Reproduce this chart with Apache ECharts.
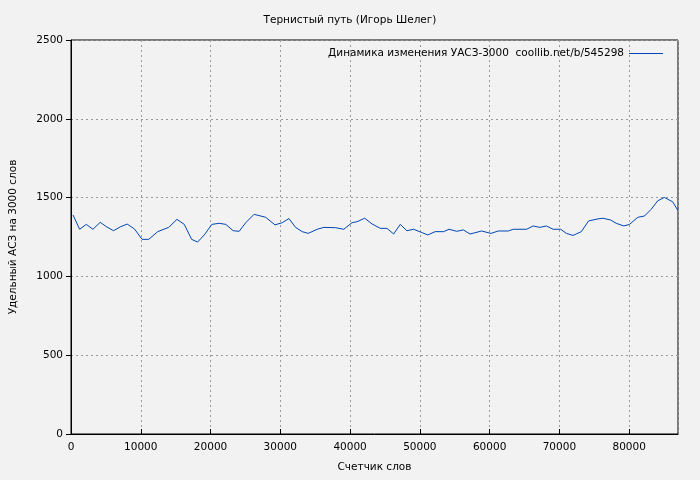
<!DOCTYPE html>
<html><head><meta charset="utf-8">
<script src="https://cdn.jsdelivr.net/npm/echarts@6/dist/echarts.min.js"></script>
<style>html,body{margin:0;background:#f2f2f2}#main{width:700px;height:480px}</style>
</head><body><div id="main"></div>
<script>
var wordCounts = [286, 1240, 2190, 3140, 4190, 5050, 6100, 7050, 8050, 9100, 10190, 11140, 12430, 14000, 15190, 16240, 17290, 18140, 19100, 20190, 21240, 22190, 23240, 24100, 25050, 26240, 27900, 29240, 30290, 31240, 32190, 33140, 34000, 35290, 36240, 37900, 39100, 40290, 41000, 42100, 43140, 44330, 45290, 46240, 47190, 48140, 49100, 50190, 51140, 52190, 53390, 54190, 55290, 56240, 57190, 58860, 60190, 61240, 62670, 63390, 65290, 66240, 67190, 68140, 69100, 70190, 71000, 71960, 73140, 74190, 75530, 76240, 77330, 78140, 79240, 80040, 81240, 82190, 83140, 84100, 85050, 86240, 86960];
var uasValues = [1390, 1299, 1330, 1299, 1343, 1316, 1290, 1314, 1332, 1301, 1235, 1235, 1284, 1311, 1362, 1330, 1235, 1218, 1263, 1330, 1337, 1330, 1290, 1286, 1341, 1394, 1375, 1327, 1341, 1367, 1311, 1284, 1273, 1299, 1311, 1309, 1299, 1341, 1347, 1369, 1333, 1305, 1305, 1269, 1330, 1290, 1299, 1280, 1263, 1284, 1284, 1299, 1286, 1295, 1269, 1288, 1273, 1288, 1288, 1299, 1299, 1320, 1311, 1320, 1299, 1299, 1273, 1260, 1284, 1352, 1365, 1369, 1358, 1337, 1320, 1330, 1375, 1383, 1425, 1480, 1501, 1473, 1420];
var seriesName = 'Динамика изменения УАСЗ-3000  coollib.net/b/545298';

var points = wordCounts.map(function (x, i) { return [x, uasValues[i]]; });
var myChart = echarts.init(document.getElementById('main'));
var font = 'DejaVu Sans';
var plain = function (v) { return String(v); };
var option = {
    backgroundColor: '#f2f2f2',
    textStyle: { fontFamily: font },
    title: {
        text: 'Тернистый путь (Игорь Шелег)',
        left: 'center', top: 10,
        textStyle: { fontSize: 10.5, fontWeight: 'normal', color: '#000', fontFamily: font }
    },
    legend: {
        right: 32, top: 43, align: 'right', itemWidth: 34, itemHeight: 1, itemGap: 12,
        icon: 'rect',
        textStyle: { fontSize: 10.5, color: '#000', fontFamily: font },
        data: [seriesName]
    },
    grid: { left: 68, right: 22, top: 40, bottom: 46, show: true, borderColor: '#000', borderWidth: 1 },
    xAxis: {
        type: 'value', min: 0, max: 87000, interval: 10000,
        name: 'Счетчик слов', nameLocation: 'middle', nameGap: 28,
        nameTextStyle: { fontSize: 10.5, color: '#000' },
        axisLine: { lineStyle: { color: '#000' } },
        axisTick: { inside: true, lineStyle: { color: '#000' } },
        axisLabel: { fontSize: 10.5, color: '#000', showMaxLabel: false, formatter: plain },
        splitLine: { lineStyle: { color: '#999', type: [2, 3] } }
    },
    yAxis: {
        type: 'value', min: 0, max: 2500, interval: 500,
        name: 'Удельный АСЗ на 3000 слов', nameLocation: 'middle', nameGap: 52,
        nameTextStyle: { fontSize: 10.5, color: '#000' },
        axisLine: { show: true, lineStyle: { color: '#000' } },
        axisTick: { show: true, lineStyle: { color: '#000' } },
        axisLabel: { fontSize: 10.5, color: '#000', formatter: plain },
        splitLine: { lineStyle: { color: '#999', type: [2, 3] } }
    },
    series: [{
        name: seriesName, type: 'line', data: points, showSymbol: false,
        lineStyle: { color: '#0046b4', width: 1 }, itemStyle: { color: '#0046b4' }
    }]
};
myChart.setOption(option);
</script></body></html>
